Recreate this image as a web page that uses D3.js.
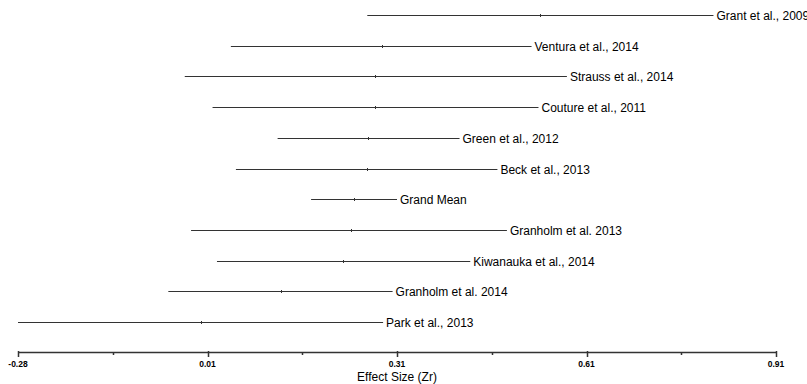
<!DOCTYPE html>
<html><head><meta charset="utf-8">
<script src="https://cdn.jsdelivr.net/npm/d3@7"></script>
<style>body{margin:0;background:#fff;}svg{display:block;}</style>
</head><body>
<svg id="c" width="807" height="384"></svg>
<script>
const studies = ["Grant et al., 2009","Ventura et al., 2014","Strauss et al., 2014","Couture et al., 2011","Green et al., 2012","Beck et al., 2013","Grand Mean","Granholm et al. 2013","Kiwanauka et al., 2014","Granholm et al. 2014","Park et al., 2013"];
const lower = [0.268,0.052,-0.021,0.023,0.126,0.060,0.179,-0.011,0.030,-0.047,-0.285];
const means = [0.541,0.291,0.280,0.280,0.269,0.268,0.247,0.242,0.230,0.131,0.005];
const upper = [0.816,0.528,0.584,0.539,0.414,0.474,0.315,0.489,0.431,0.308,0.293];
const majorTicks = [-0.285,0.015,0.315,0.615,0.915];
const tickLabels = ["-0.28","0.01","0.31","0.61","0.91"];
const minorTicks = [-0.135,0.165,0.465,0.765];
const axisTitle = "Effect Size (Zr)";

const svg = d3.select("#c");
const x = d3.scaleLinear().domain([-0.285,0.915]).range([18,776]);
const y = d3.scalePoint().domain(studies).range([15,322]);
const col = "#333";
const ff = "Liberation Sans, Arial, sans-serif";

const rows = studies.map((s,i)=>({s,lo:lower[i],m:means[i],hi:upper[i]}));
const g = svg.append("g");
g.selectAll("line.ci").data(rows).join("line").attr("class","ci")
  .attr("x1",d=>x(d.lo)).attr("x2",d=>x(d.hi))
  .attr("y1",d=>Math.round(y(d.s))+0.5).attr("y2",d=>Math.round(y(d.s))+0.5)
  .attr("stroke",col).attr("stroke-width",1);
g.selectAll("line.mean").data(rows).join("line").attr("class","mean")
  .attr("x1",d=>Math.round(x(d.m))+0.5).attr("x2",d=>Math.round(x(d.m))+0.5)
  .attr("y1",d=>Math.round(y(d.s))-1).attr("y2",d=>Math.round(y(d.s))+2)
  .attr("stroke",col).attr("stroke-width",1);
g.selectAll("text.lab").data(rows).join("text").attr("class","lab")
  .attr("x",d=>x(d.hi)+3).attr("y",d=>Math.round(y(d.s))+0.5)
  .attr("dy","0.35em")
  .attr("font-family",ff).attr("font-size",12)
  .attr("fill","#000").text(d=>d.s);

// axis
const ay = 352;
const axis = svg.append("g");
axis.append("line").attr("x1",x(-0.285)).attr("x2",x(0.915)).attr("y1",ay+0.5).attr("y2",ay+0.5)
  .attr("stroke",col).attr("stroke-width",1.5);
axis.selectAll("line.maj").data(majorTicks).join("line").attr("class","maj")
  .attr("x1",d=>Math.round(x(d))+0.5).attr("x2",d=>Math.round(x(d))+0.5)
  .attr("y1",ay-1).attr("y2",ay+5).attr("stroke",col).attr("stroke-width",1.5);
axis.selectAll("line.min").data(minorTicks).join("line").attr("class","min")
  .attr("x1",d=>Math.round(x(d))+0.5).attr("x2",d=>Math.round(x(d))+0.5)
  .attr("y1",ay).attr("y2",ay+3).attr("stroke",col).attr("stroke-width",1.5);
axis.selectAll("text.tl").data(majorTicks).join("text").attr("class","tl")
  .attr("x",d=>x(d)).attr("y",367).attr("text-anchor","middle")
  .attr("font-family",ff).attr("font-size",8.5).attr("font-weight","bold")
  .attr("fill","#000").text((d,i)=>tickLabels[i]);
svg.append("text").attr("x",x(0.315)).attr("y",381).attr("text-anchor","middle")
  .attr("font-family",ff).attr("font-size",12)
  .attr("fill","#000").text(axisTitle);
</script>
</body></html>
